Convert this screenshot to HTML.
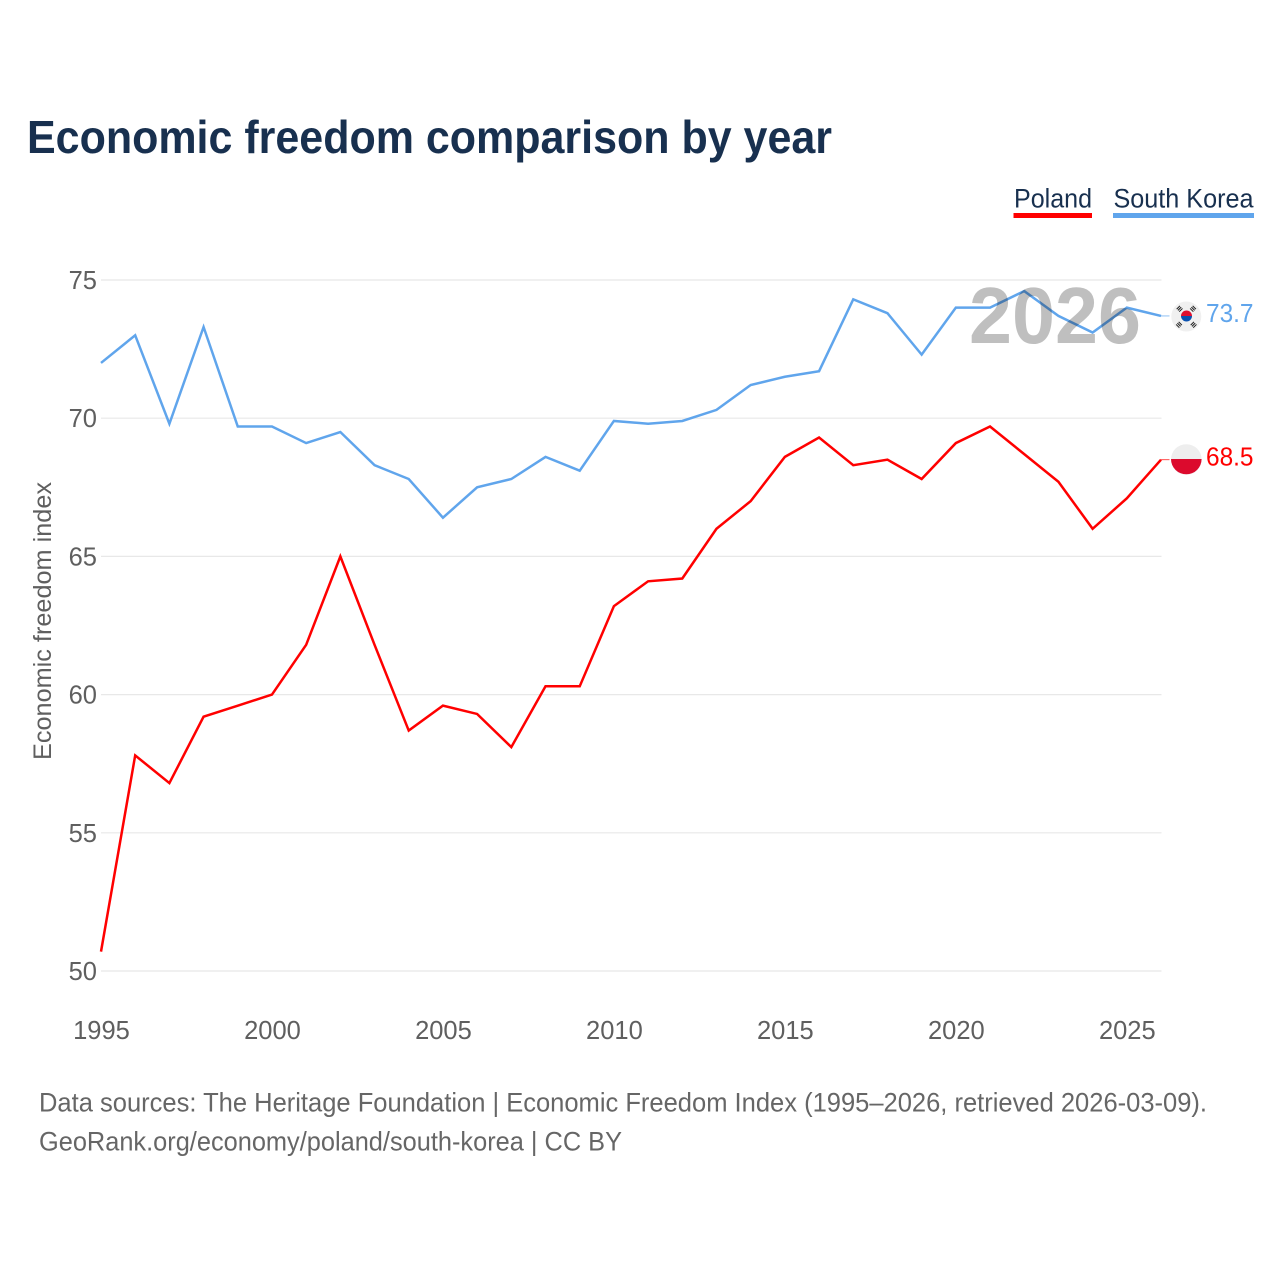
<!DOCTYPE html>
<html lang="en">
<head>
<meta charset="utf-8">
<title>Economic freedom comparison by year</title>
<style>
html,body{margin:0;padding:0;background:#fff;}
svg{display:block;}
text{font-family:"Liberation Sans",sans-serif;}
</style>
</head>
<body>
<svg id="chart" xmlns="http://www.w3.org/2000/svg" width="1280" height="1280" viewBox="0 0 1280 1280">
  <rect x="0" y="0" width="1280" height="1280" fill="#ffffff"/>
  <text x="27" y="153" font-size="46" font-weight="700" fill="#18304f" textLength="805" lengthAdjust="spacingAndGlyphs">Economic freedom comparison by year</text>

  <g>
    <text x="1014" y="207.5" font-size="27" fill="#18304f" textLength="78" lengthAdjust="spacingAndGlyphs">Poland</text>
    <rect x="1013.5" y="213" width="78.5" height="5" fill="#ff0000"/>
  </g>
  <g>
    <text x="1113.5" y="207.5" font-size="27" fill="#18304f" textLength="140" lengthAdjust="spacingAndGlyphs">South Korea</text>
    <rect x="1113" y="213" width="141" height="5" fill="#60a5ec"/>
  </g>

  <g id="grid"></g>
  <g id="yticks"></g>
  <g id="xticks"></g>
  <text transform="translate(51,621) rotate(-90)" text-anchor="middle" font-size="25" fill="#5f5f5f" textLength="278" lengthAdjust="spacingAndGlyphs">Economic freedom index</text>

  <g id="series"></g>

  <text x="969" y="343" font-size="80" font-weight="700" fill="#000000" fill-opacity="0.25" textLength="172" lengthAdjust="spacingAndGlyphs">2026</text>

  <g id="flag-kr">
    <circle cx="1186.3" cy="316.5" r="15" fill="#f0f0f0"/>
    <path d="M1181 316a5.5 5.5 0 0 1 11 0z" fill="#e0102f"/>
    <path d="M1181 316a5.5 5.5 0 0 0 11 0z" fill="#0a52b0"/>
    <g fill="#222222">
      <rect x="1177" y="306.6" width="4.6" height="1" transform="rotate(-45 1179.3 308.5)"/>
      <rect x="1177" y="308.4" width="4.6" height="1" transform="rotate(-45 1179.3 308.5)"/>
      <rect x="1177" y="310.2" width="4.6" height="1" transform="rotate(-45 1179.3 308.5)"/>
      <rect x="1191" y="306.6" width="4.6" height="1" transform="rotate(45 1193.3 308.5)"/>
      <rect x="1191" y="308.4" width="4.6" height="1" transform="rotate(45 1193.3 308.5)"/>
      <rect x="1191" y="310.2" width="4.6" height="1" transform="rotate(45 1193.3 308.5)"/>
      <rect x="1177" y="322.6" width="4.6" height="1" transform="rotate(45 1179.3 324.5)"/>
      <rect x="1177" y="324.4" width="4.6" height="1" transform="rotate(45 1179.3 324.5)"/>
      <rect x="1177" y="326.2" width="4.6" height="1" transform="rotate(45 1179.3 324.5)"/>
      <rect x="1191" y="322.6" width="4.6" height="1" transform="rotate(-45 1193.3 324.5)"/>
      <rect x="1191" y="324.4" width="4.6" height="1" transform="rotate(-45 1193.3 324.5)"/>
      <rect x="1191" y="326.2" width="4.6" height="1" transform="rotate(-45 1193.3 324.5)"/>
    </g>
  </g>
  <g id="flag-pl">
    <circle cx="1186.3" cy="459.5" r="15.3" fill="#eeeeee"/>
    <path d="M1171 459a15.3 15.3 0 0 0 30.6 0z" fill="#dc0a2d"/>
  </g>

  <text x="39" y="1111.5" font-size="27" fill="#666666" textLength="1168" lengthAdjust="spacingAndGlyphs">Data sources: The Heritage Foundation | Economic Freedom Index (1995–2026, retrieved 2026-03-09).</text>
  <text x="39" y="1150.5" font-size="27" fill="#666666" textLength="583" lengthAdjust="spacingAndGlyphs">GeoRank.org/economy/poland/south-korea | CC BY</text>
</svg>
<script>
var years = [1995,1996,1997,1998,1999,2000,2001,2002,2003,2004,2005,2006,2007,2008,2009,2010,2011,2012,2013,2014,2015,2016,2017,2018,2019,2020,2021,2022,2023,2024,2025,2026];
var polandValues = [50.7,57.8,56.8,59.2,59.6,60.0,61.8,65.0,61.8,58.7,59.6,59.3,58.1,60.3,60.3,63.2,64.1,64.2,66.0,67.0,68.6,69.3,68.3,68.5,67.8,69.1,69.7,68.7,67.7,66.0,67.1,68.5];
var southKoreaValues = [72.0,73.0,69.8,73.3,69.7,69.7,69.1,69.5,68.3,67.8,66.4,67.5,67.8,68.6,68.1,69.9,69.8,69.9,70.3,71.2,71.5,71.7,74.3,73.8,72.3,74.0,74.0,74.6,73.7,73.1,74.0,73.7];
var yTickValues = [50,55,60,65,70,75];
var xTickValues = [1995,2000,2005,2010,2015,2020,2025];

var NS = 'http://www.w3.org/2000/svg';
function xScale(year) { return 101 + (year - 1995) * (1161 - 101) / 31; }
function yScale(value) { return 971 - (value - 50) * (971 - 280) / 25; }

var gridGroup = document.getElementById('grid');
var yTickGroup = document.getElementById('yticks');
var xTickGroup = document.getElementById('xticks');
var seriesGroup = document.getElementById('series');
var chartSvg = document.getElementById('chart');

yTickValues.forEach(function (v) {
  var line = document.createElementNS(NS, 'line');
  
  
  line.setAttribute('x1', 101);
  line.setAttribute('x2', 1161.5);
  line.setAttribute('y1', yScale(v));
  line.setAttribute('y2', yScale(v));
  line.setAttribute('stroke', '#e8e8e8');
  line.setAttribute('stroke-width', '1.2');
  gridGroup.appendChild(line);

  var label = document.createElementNS(NS, 'text');
  
  
  label.setAttribute('x', 97);
  label.setAttribute('y', yScale(v) + 9);
  label.setAttribute('text-anchor', 'end');
  label.setAttribute('font-size', '25.5');
  label.setAttribute('fill', '#5f5f5f');
  label.textContent = String(v);
  yTickGroup.appendChild(label);
});

xTickValues.forEach(function (y) {
  var label = document.createElementNS(NS, 'text');
  
  
  label.setAttribute('x', xScale(y) + 0.5);
  label.setAttribute('y', 1039);
  label.setAttribute('text-anchor', 'middle');
  label.setAttribute('font-size', '25.5');
  label.setAttribute('fill', '#5f5f5f');
  label.textContent = String(y);
  xTickGroup.appendChild(label);
});

function drawSeries(values, color, key) {
  var pts = values.map(function (v, i) {
    return xScale(years[i]).toFixed(2) + ',' + yScale(v).toFixed(2);
  }).join(' ');
  var poly = document.createElementNS(NS, 'polyline');
  
  
  poly.setAttribute('points', pts);
  poly.setAttribute('fill', 'none');
  poly.setAttribute('stroke', color);
  poly.setAttribute('stroke-width', '2.5');
  poly.setAttribute('stroke-linejoin', 'miter');
  seriesGroup.appendChild(poly);

  var last = values[values.length - 1];
  var conn = document.createElementNS(NS, 'line');
  
  
  conn.setAttribute('x1', xScale(2026));
  conn.setAttribute('x2', 1169.5);
  conn.setAttribute('y1', yScale(last));
  conn.setAttribute('y2', yScale(last));
  conn.setAttribute('stroke', color);
  conn.setAttribute('stroke-width', '1');
  conn.setAttribute('stroke-opacity', '0.7');
  seriesGroup.appendChild(conn);

  var valueLabel = document.createElementNS(NS, 'text');
  
  
  valueLabel.setAttribute('x', 1206);
  valueLabel.setAttribute('y', yScale(last) + 6);
  valueLabel.setAttribute('font-size', '26');
  valueLabel.setAttribute('fill', color);
  valueLabel.setAttribute('textLength', '47.5');
  valueLabel.setAttribute('lengthAdjust', 'spacingAndGlyphs');
  valueLabel.textContent = last.toFixed(1);
  chartSvg.appendChild(valueLabel);
}

drawSeries(polandValues, '#ff0000', 'poland');
drawSeries(southKoreaValues, '#60a5ec', 'south-korea');
</script>
</body>
</html>
